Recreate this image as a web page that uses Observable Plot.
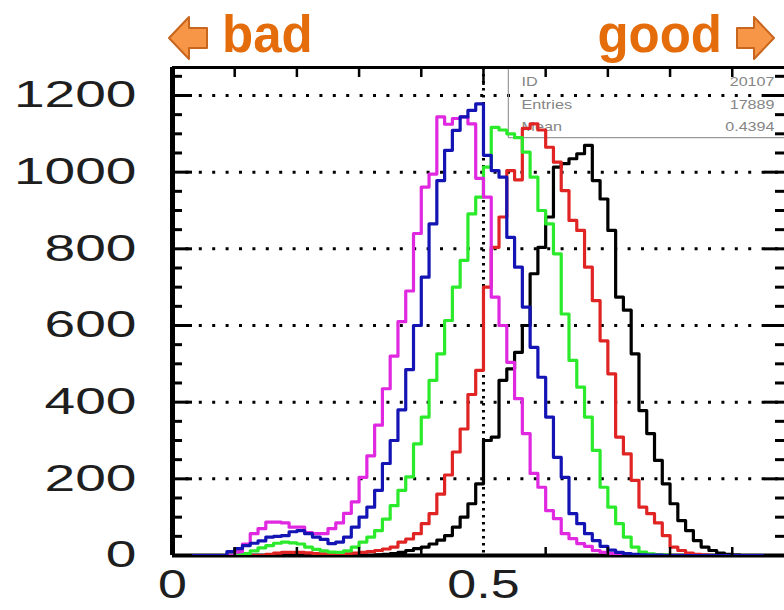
<!DOCTYPE html>
<html>
<head>
<meta charset="utf-8">
<script src="https://cdn.jsdelivr.net/npm/d3@7"></script>
<script src="https://cdn.jsdelivr.net/npm/@observablehq/plot@0.6"></script>
<style>
  html, body { margin: 0; padding: 0; background: #fff; }
  body { width: 784px; height: 610px; overflow: hidden; font-family: "Liberation Sans", Arial, sans-serif; }
  #head { display: block; width: 784px; height: 64px; }
  #chart svg { display: block; }
</style>
</head>
<body>
<svg id="head" width="784" height="64" xmlns="http://www.w3.org/2000/svg">
  <polygon points="169,38 189,17 189,28 207,28 207,48 189,48 189,59" fill="#F79646" stroke="#C8661E" stroke-width="2" stroke-linejoin="round"/>
  <text x="222" y="52" font-family="Liberation Sans, Arial, sans-serif" font-weight="bold" font-size="51" fill="#E46C0A">bad</text>
  <text x="722" y="52" text-anchor="end" font-family="Liberation Sans, Arial, sans-serif" font-weight="bold" font-size="51" fill="#E46C0A">good</text>
  <polygon points="774,38 754,17 754,28 737,28 737,48 754,48 754,59" fill="#F79646" stroke="#C8661E" stroke-width="2" stroke-linejoin="round"/>
</svg>
<div id="chart"></div>
<script>
// ---------- data ----------
const binWidth = 0.0125;           // histogram bin width, bins start at 0
const seriesNames  = ["h1", "h2", "h3", "h4", "h5"];   // drawn in this order
const seriesColors = ["#000000", "#E02424", "#2BEA2B", "#E028E0", "#1414B4"];

const magentaHist = [0,0,0,0,0,0,0,0,
  10,30,57,70,87,87,85,74,74,60,57,57,
  70,85,110,140,204,260,340,435,520,610,
  690,840,961,995,1144,1125,1140,1144,1126,984,
  935,674,600,504,409,318,214,178,117,96,
  57,44,31,24,13,8,5,3,2,1,
  0,0,0,0,0,0,0,0,0,0,0,0,0,0,0,0,0,0,0];

const blueHist = [0,0,0,0,0,0,0,
  10,18,26,32,38,48,50,52,62,65,57,48,42,
  31,35,48,74,100,126,170,240,300,380,
  485,600,726,865,978,1057,1109,1144,1161,1178,
  1044,1004,987,830,752,648,543,465,361,256,
  204,109,83,57,39,24,14,8,5,3,
  2,1,1,0,0,0,0,0,0,0,0,0,0,0,0,0,0,0,0];

const greenHist = [0,0,0,0,0,0,0,0,0,
  5,12,20,26,32,35,33,30,22,16,12,
  9,8,12,22,35,48,65,95,130,170,
  205,291,361,457,526,613,700,770,891,935,
  1013,1117,1110,1100,1090,1052,987,900,865,787,
  630,509,439,361,274,178,126,83,48,22,
  9,4,2,1,0,0,0,0,0,0,0,0,0,0,0,0,0,0,0];

const redHist = [0,0,0,0,0,0,0,0,0,0,0,0,
  3,6,8,8,8,7,5,4,
  3,3,4,6,8,10,13,17,22,35,
  43,57,83,109,160,210,270,330,420,483,
  700,804,883,1004,980,1114,1126,1110,1065,1026,
  952,874,848,752,665,560,474,309,265,196,
  126,109,85,52,22,13,6,3,1,0,
  0,0,0,0,0,0,0,0,0];

const blackHist = [0,0,0,0,0,0,0,0,0,0,0,0,0,0,0,0,0,0,0,0,0,0,0,0,0,0,
  2,3,5,8,
  13,18,22,30,40,52,74,100,135,187,
  300,309,457,487,530,600,735,804,883,1013,
  1022,1035,1048,1070,978,930,848,674,640,526,
  378,318,248,187,135,91,65,39,22,13,
  6,3,1,0,0,0,0,0,0];

const seriesValues = [blackHist, redHist, greenHist, magentaHist, blueHist];

const xDomain = [0, 0.984];
const yDomain = [0, 1273];
const xTicks = [0, 0.5];
const xTickLabels = ["0", "0.5"];
const xMinorTicks = [0.1, 0.2, 0.3, 0.4, 0.6, 0.7, 0.8, 0.9];
const xMajorTicks = [0.5];
const yTicks = [0, 200, 400, 600, 800, 1000, 1200];
const yTickLabels = ["0", "200", "400", "600", "800", "1000", "1200"];
const yMinorTicks = [50,100,150,250,300,350,450,500,550,650,700,750,850,900,950,1050,1100,1150,1250];
const yGrid = [200, 400, 600, 800, 1000, 1200];
const xGrid = [0.5];
const statLabels = ["ID", "Entries", "Mean"];
const statValues = ["20107", "17889", "0.4394"];
const statsCorner = {x: 0.540, y: 1090};

// ---------- layout ----------
const W = 784, H = 546, mL = 172, mR = 0, mT = 3, mB = 55;
const pxX = (W - mL - mR) / (xDomain[1] - xDomain[0]);
const pxY = (H - mT - mB) / (yDomain[1] - yDomain[0]);
const lx = p => p / pxX, ly = p => p / pxY;

const rows = [];
seriesNames.forEach((s, j) => {
  const vals = seriesValues[j];
  vals.forEach((v, k) => rows.push({s, x: k * binWidth, y: v}));
  rows.push({s, x: vals.length * binWidth, y: vals[vals.length - 1]});
});

const plot = Plot.plot({
  width: W, height: H,
  marginLeft: mL, marginRight: mR, marginTop: mT, marginBottom: mB,
  x: {domain: xDomain, axis: null},
  y: {domain: yDomain, axis: null},
  color: {type: "ordinal", domain: seriesNames, range: seriesColors},
  style: {fontFamily: "Liberation Sans, Arial, sans-serif", background: "#fff"},
  marks: [
    // dotted grid
    Plot.ruleY(yGrid, {stroke: "#000", strokeWidth: 3, strokeDasharray: "3,10.4"}),
    Plot.ruleX(xGrid, {stroke: "#000", strokeWidth: 3, strokeDasharray: "2.6,4.4"}),
    // statistics box
    Plot.ruleX([statsCorner.x], {y1: statsCorner.y, y2: yDomain[1], stroke: "#9a9a9a", strokeWidth: 1.2}),
    Plot.ruleY([statsCorner.y], {x1: statsCorner.x, x2: xDomain[1], stroke: "#9a9a9a", strokeWidth: 1.2}),
    Plot.text([statLabels.join("\n")], {frameAnchor: "top-left", text: d => d, dx: 349, dy: 3, lineHeight: 1.8,
      textAnchor: "start", lineAnchor: "top", fontSize: 12.5, fill: "#858585"}),
    Plot.text([statValues.join("\n")], {frameAnchor: "top-right", text: d => d, dx: -10, dy: 3, lineHeight: 1.8,
      textAnchor: "end", lineAnchor: "top", fontSize: 12.4, fill: "#858585"}),
    // frame
    Plot.ruleY([yDomain[0]], {stroke: "#000", strokeWidth: 4}),
    Plot.ruleY([yDomain[1]], {stroke: "#000", strokeWidth: 3}),
    // histograms
    Plot.line(rows, {x: "x", y: "y", z: "s", stroke: "s", curve: "step-after", strokeWidth: 3.2, clip: true}),
    Plot.ruleX([xDomain[0]], {stroke: "#000", strokeWidth: 5, y1: yDomain[0], y2: yDomain[1]}),
    // ticks
    Plot.ruleY(yMinorTicks, {x1: xDomain[0], x2: xDomain[0] + lx(10), stroke: "#000", strokeWidth: 3}),
    Plot.ruleY(yTicks, {x1: xDomain[0], x2: xDomain[0] + lx(20), stroke: "#000", strokeWidth: 3}),
    Plot.ruleY(yMinorTicks, {x1: xDomain[1] - lx(9), x2: xDomain[1], stroke: "#000", strokeWidth: 3}),
    Plot.ruleY(yTicks, {x1: xDomain[1] - lx(20), x2: xDomain[1], stroke: "#000", strokeWidth: 3}),
    Plot.ruleX(xMinorTicks, {y1: yDomain[1], y2: yDomain[1] - ly(10), stroke: "#000", strokeWidth: 2.5}),
    Plot.ruleX(xMajorTicks, {y1: yDomain[1], y2: yDomain[1] - ly(18), stroke: "#000", strokeWidth: 2.5}),
    Plot.ruleX(xMinorTicks, {y1: yDomain[0], y2: yDomain[0] + ly(8), stroke: "#000", strokeWidth: 2.5}),
    // tick labels
    Plot.text(yTicks, {y: d => d, frameAnchor: "left", text: (d, i) => yTickLabels[i], dx: -36,
      textAnchor: "end", lineAnchor: "middle", fontSize: 37, fill: "#1e1e1e"}),
    Plot.text(xTicks, {x: d => d, frameAnchor: "bottom", text: (d, i) => xTickLabels[i], dy: 30,
      textAnchor: "middle", lineAnchor: "middle", fontSize: 40, fill: "#1e1e1e"})
  ]
});
document.getElementById("chart").appendChild(plot);

// horizontally stretched lettering, as in the original picture
function stretch(fs, sx, sy) {
  plot.querySelectorAll(`g[font-size^="${fs}"] text`).forEach(t => {
    const x = +t.getAttribute("x") || 0, y = +t.getAttribute("y") || 0;
    const tr = t.getAttribute("transform") || "";
    t.setAttribute("transform", `${tr} translate(${x},${y}) scale(${sx},${sy}) translate(${-x},${-y})`);
  });
}
stretch("37", 1.49, 1);
stretch("40", 1.3, 1);
stretch("12.5", 1.3, 1);
stretch("12.4", 1.3, 1);
</script>
</body>
</html>
